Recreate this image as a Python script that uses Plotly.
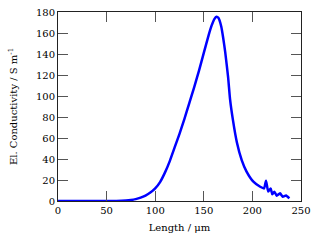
import plotly.graph_objects as go

length_um = [0, 20, 40, 60, 70, 75, 80, 85, 90, 95, 100, 105, 110, 115, 120, 125, 130,
             135, 140, 145, 150, 155, 158, 161, 163, 165, 168, 170, 172, 175, 177, 180,
             184, 189, 194, 201, 208, 212, 214, 216.3, 218.8, 220.5, 222.6, 225, 228.4,
             231.2, 234.6, 238]
conductivity = [0, 0, 0, 0, 0.4, 0.9, 1.8, 3.2, 5.2, 8.0, 12, 18, 27, 38, 51, 64, 78,
                93, 108, 124, 141, 158, 167, 173.5, 175.5, 174.5, 166, 155, 142, 118, 97, 77,
                56, 39, 28, 18.4, 13.6, 12, 19.4, 9.0, 12, 6.4, 8.9, 5.0, 7.3,
                4.1, 5.2, 2.5]

x_ticks = [0, 50, 100, 150, 200, 250]
y_ticks = [0, 20, 40, 60, 80, 100, 120, 140, 160, 180]

font_family = "DejaVu Serif"

fig = go.Figure()
fig.add_trace(go.Scatter(
    x=length_um, y=conductivity, mode="lines",
    line=dict(color="#0000ff", width=2.5, shape="spline", smoothing=0.5),
    showlegend=False, hoverinfo="skip",
))

axis_common = dict(
    showgrid=False, zeroline=False, automargin=False,
    showline=True, linecolor="#222222", linewidth=1, mirror="allticks",
    ticks="inside", ticklen=10, tickwidth=1, tickcolor="#555555",
    tickfont=dict(family=font_family, size=10, color="#000000"),
)

fig.update_xaxes(range=[0, 250], tickvals=x_ticks, ticktext=[str(v) for v in x_ticks],
                 title=dict(text="Length / μm", font=dict(family=font_family, size=10, color="#000"),
                            standoff=8),
                 **axis_common)
fig.update_yaxes(range=[0, 180], tickvals=y_ticks, ticktext=[str(v) for v in y_ticks],
                 title=dict(text="El. Conductivity / S m<sup>-1</sup>",
                            font=dict(family=font_family, size=10, color="#000"), standoff=16),
                 **axis_common)

fig.update_layout(
    width=320, height=240, autosize=False,
    margin=dict(l=58, r=19, t=12, b=39, pad=0),
    plot_bgcolor="#ffffff", paper_bgcolor="#ffffff",
    font=dict(family=font_family, size=10, color="#000"),
)

fig.write_html("out.html", config={"displayModeBar": False, "staticPlot": True},
               post_script="document.body.style.margin='0';")
